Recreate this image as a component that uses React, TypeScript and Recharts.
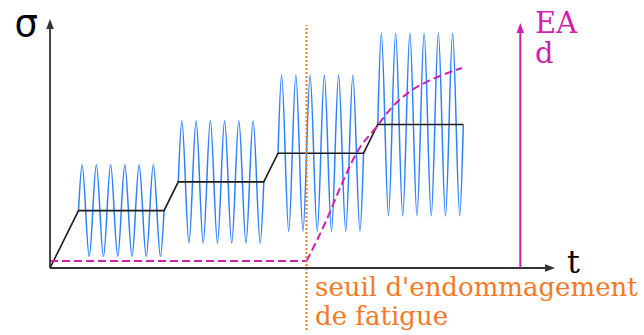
import { ComposedChart, Line, XAxis, YAxis, ReferenceLine, ReferenceDot } from 'recharts';

// x: one unit = one load cycle, y: stress in arbitrary units (axis at 0)
const X_MIN = -3.51;
const X_MAX = 41.68;
const Y_MIN = -2.334;
const Y_MAX = 9.338;

// stepped loading blocks (blue sine bursts)
const blockStarts = [2, 9, 16, 23];
const blockMeans = [2, 3, 4, 5];
const blockAmps = [1.6, 2.13, 2.72, 3.18];
const cyclesPerBlock = 6;
const wavePhase = [0, 1, 0, -1]; // mean, peak, mean, trough

// mean stress staircase (black)
const meanX = [0, 2, 8, 9, 15, 16, 22, 23, 29];
const meanY = [0, 2, 2, 3, 3, 4, 4, 5, 5];

// acoustic emission / damage curve (magenta dashed)
const damageFlatX = [0, 18];
const damageFlatY = [0.24, 0.24];
const damageX = [18, 19.4, 20.5, 21.5, 22.9, 24, 25.2, 26.4, 27.5, 28.9];
const damageY = [0.24, 1.67, 2.96, 4.0, 4.91, 5.6, 6.13, 6.48, 6.72, 6.97];

// fatigue threshold and arrows
const thresholdX = 18;
const thresholdTop = 8.47;
const thresholdBottom = -2.16;
const tAxisEnd = 35.44;
const sigmaAxisEnd = 8.68;
const eadX = 33;
const eadTop = 8.54;

const BLUE = '#2f80ff';
const MAGENTA = '#d21fb0';
const ORANGE = '#f47a26';
const AXIS = '#333333';

const zip = (xs: number[], ys: number[]) => xs.map((x, i) => ({ x, y: ys[i] }));

const waves = blockStarts.map((start, b) => {
  const pts = [];
  for (let k = 0; k <= cyclesPerBlock * 4; k++) {
    pts.push({ x: start + k / 4, y: blockMeans[b] + blockAmps[b] * wavePhase[k % 4] });
  }
  return pts;
});

const meanData = zip(meanX, meanY);
const damageFlat = zip(damageFlatX, damageFlatY);
const damageCurve = zip(damageX, damageY);

const arrowShape = (color: string, width: number, len: number, half: number) => (p: any) => {
  const { x1, y1, x2, y2 } = p;
  const ang = Math.atan2(y2 - y1, x2 - x1);
  const bx = x2 - len * Math.cos(ang);
  const by = y2 - len * Math.sin(ang);
  const nx = -Math.sin(ang) * half;
  const ny = Math.cos(ang) * half;
  return (
    <g>
      <line x1={x1} y1={y1} x2={bx + Math.cos(ang) * 2} y2={by + Math.sin(ang) * 2} stroke={color} strokeWidth={width} />
      <polygon points={`${x2},${y2} ${bx + nx},${by + ny} ${bx - nx},${by - ny}`} fill={color} />
    </g>
  );
};

const textShape = (text: string, color: string, size: number, family: string, anchor = 'start') => (p: any) => (
  <text x={p.cx} y={p.cy} fill={color} fontSize={size} fontFamily={family} textAnchor={anchor}>
    {text}
  </text>
);

export default function App() {
  return (
    <div style={{ position: 'absolute', left: 0, top: 0, background: '#fff' }}>
      <ComposedChart width={644} height={335} margin={{ top: 0, right: 0, bottom: 0, left: 0 }}>
        <XAxis type="number" dataKey="x" domain={[X_MIN, X_MAX]} allowDataOverflow hide />
        <YAxis type="number" dataKey="y" domain={[Y_MIN, Y_MAX]} allowDataOverflow hide />

        {waves.map((w, i) => (
          <Line key={i} data={w} dataKey="y" type="natural" stroke={BLUE} strokeWidth={1.5}
            dot={false} activeDot={false} isAnimationActive={false} />
        ))}
        <Line data={meanData} dataKey="y" type="linear" stroke="#1a1a1a" strokeWidth={1.6}
          dot={false} activeDot={false} isAnimationActive={false} />
        <Line data={damageFlat} dataKey="y" type="linear" stroke={MAGENTA} strokeWidth={2}
          strokeDasharray="8 4" dot={false} activeDot={false} isAnimationActive={false} />
        <Line data={damageCurve} dataKey="y" type="monotone" stroke={MAGENTA} strokeWidth={2}
          strokeDasharray="8 4" dot={false} activeDot={false} isAnimationActive={false} />

        <ReferenceLine segment={[{ x: thresholdX, y: thresholdBottom }, { x: thresholdX, y: thresholdTop }]}
          stroke={ORANGE} strokeWidth={2} strokeDasharray="2 2" />
        <ReferenceLine segment={[{ x: 0, y: 0 }, { x: tAxisEnd, y: 0 }]} shape={arrowShape(AXIS, 1.8, 10, 3.8)} />
        <ReferenceLine segment={[{ x: 0, y: 0 }, { x: 0, y: sigmaAxisEnd }]} shape={arrowShape(AXIS, 1.8, 10, 3.8)} />
        <ReferenceLine segment={[{ x: eadX, y: 0 }, { x: eadX, y: eadTop }]} shape={arrowShape(MAGENTA, 2, 10, 3.8)} />

        <ReferenceDot x={-0.84} y={8.1} r={0} shape={textShape('σ', '#000', 37, 'DejaVu Sans', 'end')} />
        <ReferenceDot x={36.28} y={-0.17} r={0} shape={textShape('t', '#000', 32, 'DejaVu Serif')} />
        <ReferenceDot x={34.04} y={8.19} r={0} shape={textShape('EA', MAGENTA, 29, 'DejaVu Serif')} />
        <ReferenceDot x={34.04} y={7.14} r={0} shape={textShape('d', MAGENTA, 29, 'DejaVu Serif')} />
        <ReferenceDot x={18.6} y={-0.98} r={0} shape={textShape("seuil d'endommagement", ORANGE, 26, 'DejaVu Serif')} />
        <ReferenceDot x={18.6} y={-1.99} r={0} shape={textShape('de fatigue', ORANGE, 26, 'DejaVu Serif')} />
      </ComposedChart>
    </div>
  );
}
